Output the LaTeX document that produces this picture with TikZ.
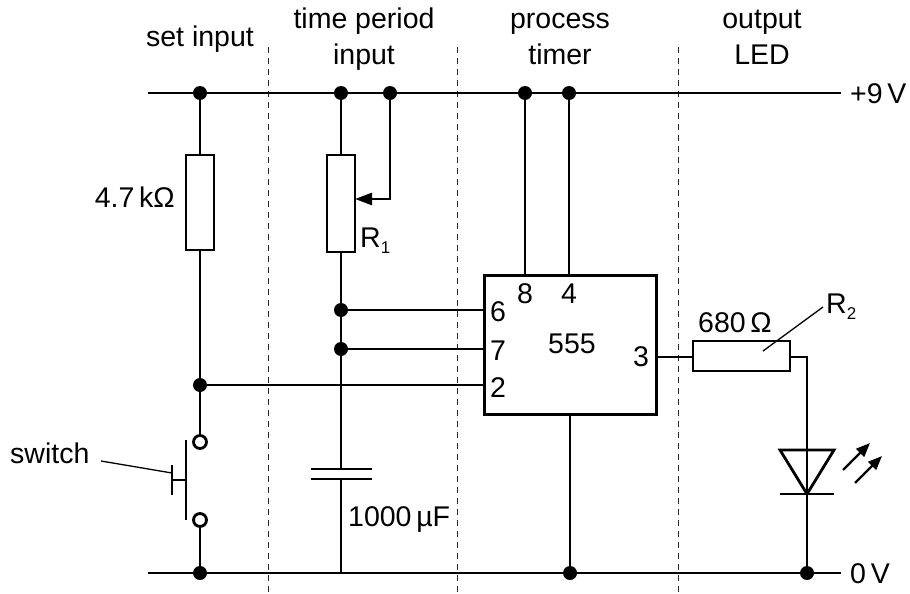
\documentclass[tikz,border=0pt]{standalone}
\usepackage{fontspec}
\setmainfont{Liberation Sans}
\usetikzlibrary{arrows.meta}
\tikzset{
  wire/.style={line width=2.8pt, line cap=butt, line join=miter},
  part/.style={line width=2.8pt, fill=white},
  sep/.style={line width=1pt, dash pattern=on 6pt off 5pt, black!85},
  jdot/.style={circle, fill=black, inner sep=0pt, minimum size=14pt},
  lbl/.style={inner sep=0pt, font=\fontsize{28.5}{33}\selectfont},
  thin/.style={line width=1.3pt}
}
\newcommand{\mysub}[1]{\raisebox{-6pt}{\fontsize{17}{17}\selectfont #1}}
\begin{document}
\begin{tikzpicture}[x=1pt,y=-1pt]
\useasboundingbox (0,0) rectangle (910,594);
% separators
\draw[sep] (268,47) -- (268,594);
\draw[sep] (457,47) -- (457,594);
\draw[sep] (678,47) -- (678,594);
% coordinates
\coordinate (tl) at (148,93);
\coordinate (tr) at (841,93);
\coordinate (bl) at (148,573);
\coordinate (br) at (841,573);
% rails
\draw[wire] (tl) -- (tr);
\draw[wire] (bl) -- (br);
% set input branch
\coordinate (a1) at (200,93);
\coordinate (a2) at (200,385);
\coordinate (a3) at (200,573);
\coordinate (s1) at (200,442);
\coordinate (s2) at (200,520);
\draw[wire] (a1) -- (s1);
\draw[wire] (s2) -- (a3);
\draw[part] (186,155) rectangle (214,250);
\draw[wire, fill=white] (s1) circle (6.5pt);
\draw[wire, fill=white] (s2) circle (6.5pt);
\draw[wire] (186,440) -- (186,520);
\draw[wire] (186,480) -- (172,480);
\draw[wire] (172,465) -- (172,495);
\coordinate (sw) at (172,473);
\coordinate (swt) at (101,461);
\draw[thin] (swt) -- (sw);
% time period branch
\coordinate (b1) at (341,93);
\coordinate (b2) at (341,310);
\coordinate (b3) at (341,349);
\coordinate (b4) at (341,573);
\coordinate (w1) at (390,93);
\coordinate (w2) at (390,199);
\coordinate (w3) at (356,199);
\draw[wire] (b1) -- (b4);
\draw[part] (327,155) rectangle (355,252);
\draw[wire, -{Triangle[length=17pt,width=12pt]}] (w1) -- (w2) -- ([xshift=-1pt]w3);
% capacitor
\fill[white] (311,469) rectangle (372,479);
\draw[wire] (311,469) -- (372,469);
\draw[wire] (311,479) -- (372,479);
% 555
\node[draw, line width=2.8pt, minimum width=172pt, minimum height=139pt, inner sep=0pt, anchor=north west] (ic) at (483,274) {};
\coordinate (p8) at (525,274);
\coordinate (p4) at (569,274);
\coordinate (p1) at (570,413);
\coordinate (c8) at (525,93);
\coordinate (c4) at (569,93);
\coordinate (c1) at (570,573);
\draw[wire] (c8) -- (p8);
\draw[wire] (c4) -- (p4);
\draw[wire] (p1) -- (c1);
\coordinate (p6) at (483,310);
\coordinate (p7) at (483,349);
\coordinate (p2) at (483,385);
\draw[wire] (b2) -- (p6);
\draw[wire] (b3) -- (p7);
\draw[wire] (a2) -- (p2);
% output
\coordinate (p3) at (655,357);
\coordinate (r2l) at (693,357);
\coordinate (r2r) at (790,357);
\coordinate (k1) at (807,357);
\coordinate (k2) at (807,573);
\draw[wire] (p3) -- (r2l);
\draw[wire] (r2r) -- (k1) -- (k2);
\draw[part] (693,341) rectangle (790,371);
\coordinate (r2a) at (763,351);
\coordinate (r2b) at (823,307);
\draw[thin] (r2a) -- (r2b);
% LED
\draw[line width=2.8pt, line join=miter] (780,450) -- (834,450) -- (807,494) -- cycle;
\draw[wire] (780,494) -- (834,494);
\draw[wire] (807,440) -- (807,500);
\coordinate (l1a) at (843,470);
\coordinate (l1b) at (870,443);
\coordinate (l2a) at (855,483);
\coordinate (l2b) at (882,456);
\draw[line width=2.4pt, -{Triangle[length=14pt,width=11pt]}] (l1a) -- (l1b);
\draw[line width=2.4pt, -{Triangle[length=14pt,width=11pt]}] (l2a) -- (l2b);
% dots
\foreach \p in {a1,b1,w1,c8,c4,b2,b3,a2,a3,c1,k2}
  \node[jdot] at (\p) {};
% labels
\node[lbl, anchor=base] (t1) at (200,47) {set input};
\node[lbl, anchor=base] (t2) at (364,29) {time period};
\node[lbl, anchor=base] (t3) at (364,64) {input};
\node[lbl, anchor=base] (t4) at (560,29) {process};
\node[lbl, anchor=base] (t5) at (560,64) {timer};
\node[lbl, anchor=base] (t6) at (762,29) {output};
\node[lbl, anchor=base] (t7) at (762,64) {LED};
\node[lbl, anchor=base west] (v9) at (850,103) {+9\,V};
\node[lbl, anchor=base west] (v0) at (850,583) {0\,V};
\node[lbl, anchor=base east] (rk) at (175,207) {4.7\,kΩ};
\node[lbl, anchor=base west] (r1) at (360,247) {R\mysub{1}};
\node[lbl, anchor=base west] (cap) at (348,526) {1000\,µF};
\node[lbl, anchor=base west] (sw) at (10,463) {switch};
\node[lbl, anchor=base] (n8) at (525,303) {8};
\node[lbl, anchor=base] (n4) at (569,303) {4};
\node[lbl, anchor=base west] (n6) at (490,321) {6};
\node[lbl, anchor=base west] (n7) at (490,360) {7};
\node[lbl, anchor=base west] (n2) at (490,397) {2};
\node[lbl, anchor=base] (n555) at (572,353) {555};
\node[lbl, anchor=base] (n3) at (641,366) {3};
\node[lbl, anchor=base west] (r680) at (698,332) {680\,Ω};
\node[lbl, anchor=base west] (r2) at (826,313) {R\mysub{2}};
\end{tikzpicture}
\end{document}
